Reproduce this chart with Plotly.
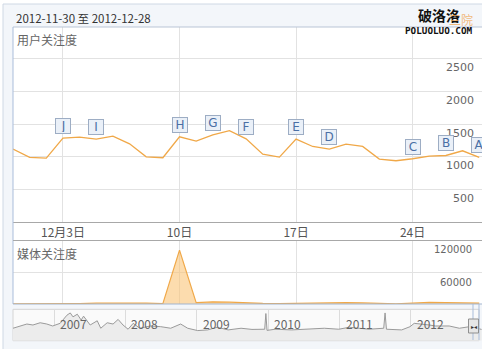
import pandas as pd
import plotly.graph_objects as go

W, H = 482, 349

# ---------------- data ----------------
dates = [d.strftime('%Y-%m-%d') for d in pd.date_range('2012-11-30', '2012-12-28')]
user_index = [1118, 990, 980, 1286, 1301, 1271, 1316, 1199, 1000, 985,
              1306, 1240, 1336, 1402, 1275, 1041, 995, 1271, 1158, 1118,
              1194, 1158, 965, 939, 970, 1010, 1020, 1092, 990]
media_index = [500, 300, 400, 600, 800, 1500, 2000, 2000, 1800, 800,
               101000, 2500, 4000, 3500, 2000, 1000, 800, 1500, 1200, 2000,
               2500, 2000, 600, 500, 1500, 3000, 2500, 2000, 1500]

flag_letters = ['J', 'I', 'H', 'G', 'F', 'E', 'D', 'C', 'B', 'A']
flag_dates = ['2012-12-03', '2012-12-05', '2012-12-10', '2012-12-12', '2012-12-14',
              '2012-12-17', '2012-12-19', '2012-12-24', '2012-12-26', '2012-12-28']

x_tick_vals = ['2012-12-03', '2012-12-10', '2012-12-17', '2012-12-24']
x_tick_text = ['12月3日', '10日', '17日', '24日']
user_y_ticks = [500, 1000, 1500, 2000, 2500]
media_y_ticks = [60000, 120000]

nav_dates = ['2006-06-05', '2006-07-10', '2006-08-15', '2006-09-15', '2006-10-22', '2006-11-25',
             '2006-12-25', '2007-02-01', '2007-03-08', '2007-03-25', '2007-04-08', '2007-04-30',
             '2007-05-20', '2007-06-01', '2007-07-05', '2007-08-10', '2007-08-28', '2007-09-30',
             '2007-10-30', '2007-11-25', '2007-12-20', '2008-01-15', '2008-02-10', '2008-03-15',
             '2008-05-08', '2008-06-30', '2008-08-20', '2008-10-10', '2008-11-15', '2009-01-05',
             '2009-02-25', '2009-04-15', '2009-06-10', '2009-08-15', '2009-10-10', '2009-12-14',
             '2009-12-20', '2009-12-26', '2010-02-05', '2010-05-01', '2010-07-25', '2010-10-15',
             '2010-12-28', '2011-02-20', '2011-06-01', '2011-08-15', '2011-08-22', '2011-08-29',
             '2011-11-15', '2011-12-28', '2012-01-18', '2012-02-28', '2012-04-05', '2012-05-05',
             '2012-07-15', '2012-09-05', '2012-10-28', '2012-12-28']
nav_values = [1270, 1500, 1700, 1600, 1830, 1700, 1500, 1770, 2600, 2830, 2430, 2700,
              2100, 2500, 1600, 2030, 1270, 1830, 1700, 2170, 1600, 1170, 1770, 1270,
              1500, 1430, 1270, 1700, 1270, 1030, 1100, 1370, 1100, 1270, 1150, 1170,
              2770, 1050, 1170, 1100, 1170, 1270, 1170, 1370, 1170, 1270, 2830, 1170,
              1100, 1430, 1770, 1700, 1600, 1500, 1500, 1270, 1430, 1150]
year_labels = ['2007', '2008', '2009', '2010', '2011', '2012']

title_text = '2012-11-30 至 2012-12-28'
user_title = '用户关注度'
media_title = '媒体关注度'

# ---------------- helpers ----------------
def fx(px):
    return px / W


def fy(py):
    return 1 - py / H


CJK = 'Noto Sans CJK SC'
LINE_C = '#f0a848'

fig = go.Figure()

fig.add_trace(go.Scatter(x=dates, y=user_index, mode='lines',
                         line=dict(color=LINE_C, width=1.3),
                         xaxis='x', yaxis='y', hoverinfo='skip'))
fig.add_trace(go.Scatter(x=dates, y=media_index, mode='lines', fill='tozeroy',
                         fillcolor='rgba(250,196,120,0.6)',
                         line=dict(color=LINE_C, width=1.2),
                         xaxis='x2', yaxis='y2', hoverinfo='skip'))
fig.add_trace(go.Scatter(x=nav_dates, y=nav_values, mode='lines', fill='tozeroy',
                         fillcolor='#ececec',
                         line=dict(color='#9a9a9a', width=1),
                         xaxis='x3', yaxis='y3', hoverinfo='skip'))

grid_c = '#e2e2e2'
dom_x = [fx(13), 1]
xrange_main = ['2012-11-30 00:00', '2012-12-28 04:00']

fig.update_layout(
    width=W, height=H,
    margin=dict(l=0, r=0, t=0, b=0),
    paper_bgcolor='white',
    plot_bgcolor='rgba(0,0,0,0)',
    showlegend=False,
    xaxis=dict(domain=dom_x, anchor='y', type='date', range=xrange_main,
               tickvals=x_tick_vals, ticktext=x_tick_text, ticks='',
               tickfont=dict(family=CJK, size=12, color='#555'),
               showgrid=True, gridcolor=grid_c, showline=True, linecolor='#a8a8a8',
               zeroline=False, fixedrange=True),
    yaxis=dict(domain=[fy(222), fy(27)], anchor='x', range=[0, 2990],
               tickvals=user_y_ticks, showticklabels=False, showgrid=True,
               gridcolor=grid_c, zeroline=False, ticks=''),
    xaxis2=dict(domain=dom_x, anchor='y2', type='date', range=xrange_main,
                tickvals=x_tick_vals, showticklabels=False, ticks='',
                showgrid=True, gridcolor=grid_c, zeroline=False),
    yaxis2=dict(domain=[fy(304), fy(240)], anchor='x2', range=[0, 120000],
                tickvals=media_y_ticks, showticklabels=False, showgrid=True,
                gridcolor=grid_c, zeroline=False, ticks=''),
    xaxis3=dict(domain=dom_x, anchor='y3', type='date',
                range=['2006-06-05', '2012-12-30'],
                tickvals=[y + '-01-01' for y in year_labels], showticklabels=False,
                ticks='', showgrid=True, gridcolor='#dcdcdc', zeroline=False),
    yaxis3=dict(domain=[fy(340.7), fy(309.3)], anchor='x3', range=[0, 3200],
                showticklabels=False, showgrid=False, zeroline=False, ticks=''),
)

shapes = [
    # outer frame
    dict(type='rect', xref='paper', yref='paper', x0=fx(3), x1=1.02, y0=-0.02, y1=fy(4),
         fillcolor='#f3f6fa', line=dict(color='#cfd8e4', width=1), layer='below'),
    # white chart area
    dict(type='rect', xref='paper', yref='paper', x0=fx(13), x1=1.01, y0=fy(304), y1=fy(27),
         fillcolor='white', line=dict(width=0), layer='below'),
    # navigator background
    dict(type='rect', xref='paper', yref='paper', x0=fx(13), x1=fx(479), y0=fy(340.7), y1=fy(309.3),
         fillcolor='#fafafa', line=dict(color='#d4d4d4', width=1), layer='below'),
    # borders
    dict(type='line', xref='paper', yref='paper', x0=fx(13), x1=1.01, y0=fy(27), y1=fy(27),
         line=dict(color='#b9c5d6', width=1), layer='above'),
    dict(type='line', xref='paper', yref='paper', x0=fx(13), x1=fx(13), y0=fy(304), y1=fy(27),
         line=dict(color='#a9bddb', width=1), layer='above'),
    dict(type='line', xref='paper', yref='paper', x0=fx(13), x1=1.01, y0=fy(240.5), y1=fy(240.5),
         line=dict(color='#a8a8a8', width=1), layer='above'),
    dict(type='line', xref='paper', yref='paper', x0=fx(13), x1=1.01, y0=fy(304), y1=fy(304),
         line=dict(color='#a3b5cf', width=1), layer='above'),
    # navigator mask edges and handle
    dict(type='line', xref='paper', yref='paper', x0=fx(473), x1=fx(473), y0=fy(340), y1=fy(304),
         line=dict(color='#a9bddb', width=1), layer='above'),
    dict(type='line', xref='paper', yref='paper', x0=fx(479), x1=fx(479), y0=fy(340), y1=fy(304),
         line=dict(color='#a9bddb', width=1), layer='above'),
    dict(type='rect', xref='paper', yref='paper', x0=fx(468.5), x1=fx(478.5), y0=fy(333), y1=fy(319),
         fillcolor='#e6e6e6', line=dict(color='#8f8f8f', width=1), layer='above'),
]
fig.update_layout(shapes=shapes)

ann = []
# header
ann.append(dict(text=title_text, xref='paper', yref='paper', x=fx(14), y=fy(18),
                xanchor='left', yanchor='middle', showarrow=False,
                font=dict(family=CJK, size=11.5, color='#333')))
# watermark
ann.append(dict(text='<b>破洛洛</b>', xref='paper', yref='paper', x=fx(416), y=fy(15),
                xanchor='left', yanchor='middle', showarrow=False,
                font=dict(family=CJK, size=14, color='#111')))
ann.append(dict(text='三院', xref='paper', yref='paper', x=fx(447), y=fy(19),
                xanchor='left', yanchor='middle', showarrow=False,
                font=dict(family=CJK, size=12, color='rgba(240,170,90,0.8)')))
ann.append(dict(text='<b>POLUOLUO.COM</b>', xref='paper', yref='paper', x=fx(403), y=fy(30),
                xanchor='left', yanchor='middle', showarrow=False,
                font=dict(family='DejaVu Sans Mono', size=9.3, color='#111')))
# chart titles
ann.append(dict(text=user_title, xref='paper', yref='paper', x=fx(15), y=fy(39.5),
                xanchor='left', yanchor='middle', showarrow=False,
                font=dict(family=CJK, size=12, color='#666')))
ann.append(dict(text=media_title, xref='paper', yref='paper', x=fx(15), y=fy(253),
                xanchor='left', yanchor='middle', showarrow=False,
                font=dict(family=CJK, size=12, color='#666')))
# y tick labels
for v in user_y_ticks:
    ann.append(dict(text=str(v), xref='paper', yref='y', x=fx(476), y=v, yshift=-9,
                    xanchor='right', yanchor='middle', showarrow=False,
                    font=dict(family='DejaVu Sans', size=11, color='#666')))
for v in media_y_ticks:
    ann.append(dict(text=str(v), xref='paper', yref='y2', x=fx(474), y=v, yshift=-10,
                    xanchor='right', yanchor='middle', showarrow=False,
                    font=dict(family='DejaVu Sans', size=10, color='#666')))
# flags
for letter, d in zip(flag_letters, flag_dates):
    v = user_index[dates.index(d)]
    ann.append(dict(text=letter, xref='x', yref='y', x=d, y=v, yshift=12,
                    showarrow=False, xanchor='center', yanchor='middle',
                    width=12, height=12, borderpad=1,
                    bgcolor='#eaf0f8', bordercolor='#9dadc4', borderwidth=1,
                    font=dict(family='DejaVu Sans', size=12, color='#4a6fa5')))
# navigator year labels
for yl in year_labels:
    ann.append(dict(text=yl, xref='x3', yref='y3 domain', x=yl + '-01-01', y=0.55,
                    xanchor='left', yanchor='middle', xshift=4, showarrow=False,
                    font=dict(family=CJK, size=12, color='#666')))
# navigator handle arrows
ann.append(dict(text='▸◂', xref='paper', yref='paper', x=fx(473.5), y=fy(326),
                xanchor='center', yanchor='middle', showarrow=False,
                font=dict(family='DejaVu Sans', size=6, color='#333')))
fig.update_layout(annotations=ann)

fig.write_html('out.html')
